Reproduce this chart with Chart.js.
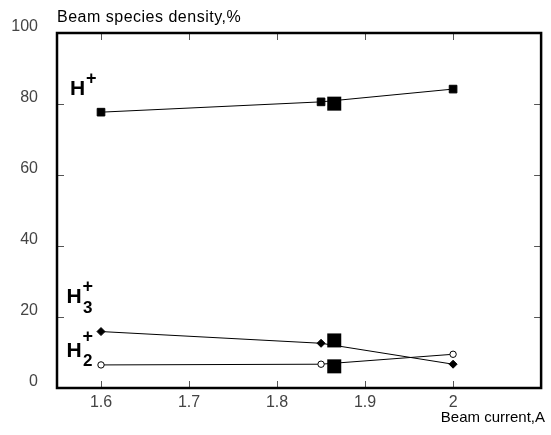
<!DOCTYPE html>
<html>
<head>
<meta charset="utf-8">
<script src="https://cdn.jsdelivr.net/npm/chart.js@4.4.1/dist/chart.umd.min.js"></script>
<style>
  html, body { margin: 0; padding: 0; background: #fff; }
  #wrap { width: 551px; height: 435px; position: relative; }
</style>
</head>
<body>
<div id="wrap"><canvas id="graf"></canvas></div>
<script>
// valores
const CORRENTE = [1.6, 1.85, 2.0];           // Beam current, A
const H1 = [77.7, 80.6, 84.2];               // H+
const H3 = [15.9, 12.6, 6.7];                // H3+
const H2 = [6.5, 6.7, 9.5];                  // H2+
const DESTAQUE_X = 1.865;                    // quadrados grandes
const DESTAQUE_Y = [80.1, 13.4, 6.1];
const TICKS_X = [1.6, 1.7, 1.8, 1.9, 2.0];
const Y_MIN = 0, Y_MAX = 100, Y_PASSO = 20;

const PRETO = '#000', CINZA_TXT = '#444';
const FONTE = '"Liberation Sans", Arial, sans-serif';

const pontos = (ys) => CORRENTE.map((x, i) => ({ x, y: ys[i] }));

function serie(label, ys, estilo, raio, fundo) {
  return {
    label, data: pontos(ys), showLine: true,
    borderColor: PRETO, borderWidth: 1,
    pointStyle: estilo, pointRadius: raio, pointHoverRadius: raio,
    pointBackgroundColor: fundo, pointBorderColor: PRETO, pointBorderWidth: 1,
  };
}

// moldura, ticks para dentro e textos
const moldura = {
  id: 'moldura',
  afterDatasetsDraw(chart) {
    const { ctx, chartArea: a, scales: { x, y } } = chart;
    ctx.save();
    ctx.strokeStyle = '#555';
    ctx.lineWidth = 1;
    ctx.beginPath();
    TICKS_X.forEach((v) => {
      const px = Math.round(x.getPixelForValue(v)) + 0.5;
      ctx.moveTo(px, a.bottom); ctx.lineTo(px, a.bottom - 7);
      ctx.moveTo(px, a.top); ctx.lineTo(px, a.top + 7);
    });
    for (let v = Y_MIN + Y_PASSO; v < Y_MAX; v += Y_PASSO) {
      const py = Math.round(y.getPixelForValue(v)) + 0.5;
      ctx.moveTo(a.left, py); ctx.lineTo(a.left + 7, py);
      ctx.moveTo(a.right, py); ctx.lineTo(a.right - 7, py);
    }
    ctx.stroke();

    ctx.strokeStyle = PRETO;
    ctx.lineWidth = 2.5;
    ctx.strokeRect(a.left, a.top, a.right - a.left, a.bottom - a.top);

    ctx.fillStyle = PRETO;
    ctx.textBaseline = 'alphabetic';
    ctx.font = '16px ' + FONTE;
    ctx.textAlign = 'left';
    ctx.letterSpacing = '0.5px';
    ctx.fillText('Beam species density,%', 57, 22);
    ctx.letterSpacing = '0px';
    ctx.font = '15px ' + FONTE;
    ctx.textAlign = 'right';
    ctx.fillText('Beam current,A', 545, 422);

    ctx.textAlign = 'left';
    const especie = (hx, hy, sub, sy, py) => {
      ctx.font = 'bold 21px ' + FONTE;
      ctx.fillText('H', hx, hy);
      if (sub) { ctx.font = 'bold 17px ' + FONTE; ctx.fillText(sub, 83, sy); }
      ctx.font = 'bold 18px ' + FONTE;
      ctx.fillText('+', hx + 16, py);
    };
    especie(70, 95, null, 0, 84);
    especie(66.5, 303, '3', 313, 292);
    especie(66.5, 357, '2', 366, 342);
    ctx.restore();
  }
};

new Chart(document.getElementById('graf'), {
  type: 'scatter',
  data: {
    datasets: [
      serie('H+', H1, 'rect', 5.4, PRETO),
      serie('H3+', H3, 'rectRot', 4, PRETO),
      serie('H2+', H2, 'circle', 3.2, '#fff'),
      {
        label: 'destaque', data: DESTAQUE_Y.map((y) => ({ x: DESTAQUE_X, y })),
        pointStyle: 'rect', pointRadius: 9.9, pointHoverRadius: 9.9,
        pointBackgroundColor: PRETO, pointBorderColor: PRETO, pointBorderWidth: 0,
      },
    ],
  },
  options: {
    responsive: true, maintainAspectRatio: false, animation: false,
    layout: { padding: { top: 33, right: 6, left: 0, bottom: 0 } },
    plugins: { legend: { display: false }, tooltip: { enabled: false } },
    scales: {
      x: {
        type: 'linear', min: 1.55, max: 2.1,
        afterBuildTicks: (s) => { s.ticks = TICKS_X.map((value) => ({ value })); },
        afterFit: (s) => { s.height = 47; },
        grid: { display: false, drawTicks: false }, border: { display: false },
        ticks: { padding: 5, color: CINZA_TXT, font: { family: FONTE, size: 16 },
                 maxRotation: 0, callback: (v) => String(Number(v.toFixed(1))) },
      },
      y: {
        min: Y_MIN, max: Y_MAX,
        afterFit: (s) => { s.width = 57; },
        grid: { display: false, drawTicks: false }, border: { display: false },
        ticks: { stepSize: Y_PASSO, padding: 19, labelOffset: -6, color: CINZA_TXT,
                 font: { family: FONTE, size: 16 } },
      },
    },
  },
  plugins: [moldura],
});
</script>
</body>
</html>
